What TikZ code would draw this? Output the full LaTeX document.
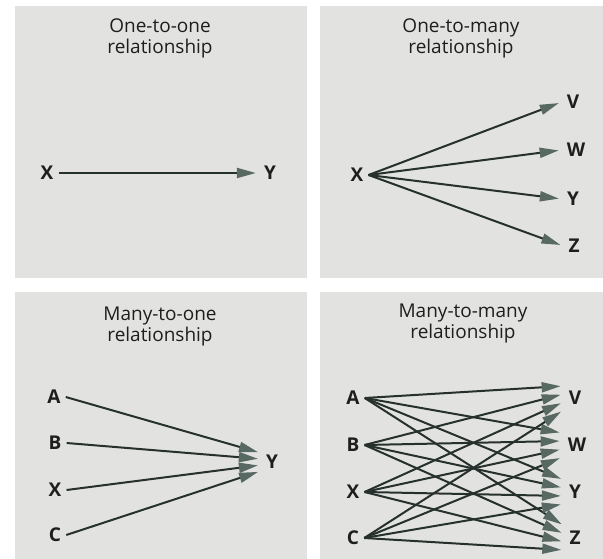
\documentclass[tikz,border=0pt]{standalone}
\usepackage{fontspec}
\setmainfont{Open Sans}
\usepackage{tikz}
\usetikzlibrary{arrows.meta, positioning}

\definecolor{panelgray}{RGB}{226,227,224}
\definecolor{linegray}{RGB}{38,48,44}
\definecolor{tipgray}{RGB}{88,104,98}
\definecolor{textgray}{RGB}{30,30,30}

\begin{document}
\begin{tikzpicture}[x=1pt, y=-1pt,
        panel/.style={rectangle, fill=panelgray, draw=none, inner sep=0pt, minimum width=292pt, minimum height=271pt},
        title/.style={align=center, text=textgray, font=\fontsize{19}{21}\selectfont},
        letter/.style={inner sep=5pt, text=textgray, font=\bfseries\fontsize{19}{20}\selectfont},
        arrow/.style={-{Triangle[length=19pt, width=10pt, color=tipgray]}, line width=2pt, color=linegray, shorten >=3pt}
    ]
        \useasboundingbox (0,0) rectangle (603,559);

        % Panels
        \node[panel] (p1) at (161,142) {};
        \node[panel, minimum width=283pt] (p2) at (461.5,142) {};
        \node[panel, minimum height=267pt] (p3) at (161,425.5) {};
        \node[panel, minimum width=283pt, minimum height=267pt] (p4) at (461.5,425.5) {};

        % Titles
        \node[title] (t1) at (160,38) {One-to-one\\relationship};
        \node[title] (t2) at (461,38) {One-to-many\\relationship};
        \node[title] (t3) at (160,326) {Many-to-one\\relationship};
        \node[title] (t4) at (463,324) {Many-to-many\\relationship};

        % One-to-one
        \node[letter] (x1) at (47,173) {X};
        \node[letter] (y1) at (270,173) {Y};
        \draw[arrow] (x1.east) -- (y1.west);

        % One-to-many
        \node[letter] (x2) at (357,175) {X};
        \node[letter] (v2) at (573,102) {V};
        \node[letter] (w2) at (576,150) {W};
        \node[letter] (y2) at (573,199) {Y};
        \node[letter] (z2) at (574,246) {Z};
        \draw[arrow] (x2.east) -- (v2.west);
        \draw[arrow] (x2.east) -- (w2.west);
        \draw[arrow] (x2.east) -- (y2.west);
        \draw[arrow] (x2.east) -- (z2.west);

        % Many-to-one
        \node[letter] (a3) at (54,397) {A};
        \node[letter] (b3) at (55,443) {B};
        \node[letter] (x3) at (55,490) {X};
        \node[letter] (c3) at (55,535) {C};
        \node[letter] (y3) at (272,462) {Y};
        \draw[arrow] (a3.east) -- ([yshift=9pt]y3.west);
        \draw[arrow] (b3.east) -- ([yshift=3pt]y3.west);
        \draw[arrow] (x3.east) -- ([yshift=-3pt]y3.west);
        \draw[arrow] (c3.east) -- ([yshift=-9pt]y3.west);

        % Many-to-many
        \node[letter] (a4) at (353,398) {A};
        \node[letter] (b4) at (353,445) {B};
        \node[letter] (x4) at (353,492) {X};
        \node[letter] (c4) at (353,538) {C};
        \node[letter] (v4) at (575,398) {V};
        \node[letter] (w4) at (577,445) {W};
        \node[letter] (y4) at (575,492) {Y};
        \node[letter] (z4) at (575,538) {Z};
        \draw[arrow] (a4.east) -- ([yshift=12pt]v4.west);
        \draw[arrow] (a4.east) -- ([yshift=12pt]w4.west);
        \draw[arrow] (a4.east) -- ([yshift=12pt]y4.west);
        \draw[arrow] (a4.east) -- ([yshift=12pt]z4.west);
        \draw[arrow] (b4.east) -- ([yshift=4pt]v4.west);
        \draw[arrow] (b4.east) -- ([yshift=4pt]w4.west);
        \draw[arrow] (b4.east) -- ([yshift=4pt]y4.west);
        \draw[arrow] (b4.east) -- ([yshift=4pt]z4.west);
        \draw[arrow] (x4.east) -- ([yshift=-4pt]v4.west);
        \draw[arrow] (x4.east) -- ([yshift=-4pt]w4.west);
        \draw[arrow] (x4.east) -- ([yshift=-4pt]y4.west);
        \draw[arrow] (x4.east) -- ([yshift=-4pt]z4.west);
        \draw[arrow] (c4.east) -- ([yshift=-12pt]v4.west);
        \draw[arrow] (c4.east) -- ([yshift=-12pt]w4.west);
        \draw[arrow] (c4.east) -- ([yshift=-12pt]y4.west);
        \draw[arrow] (c4.east) -- ([yshift=-12pt]z4.west);
    \end{tikzpicture}
\end{document}
